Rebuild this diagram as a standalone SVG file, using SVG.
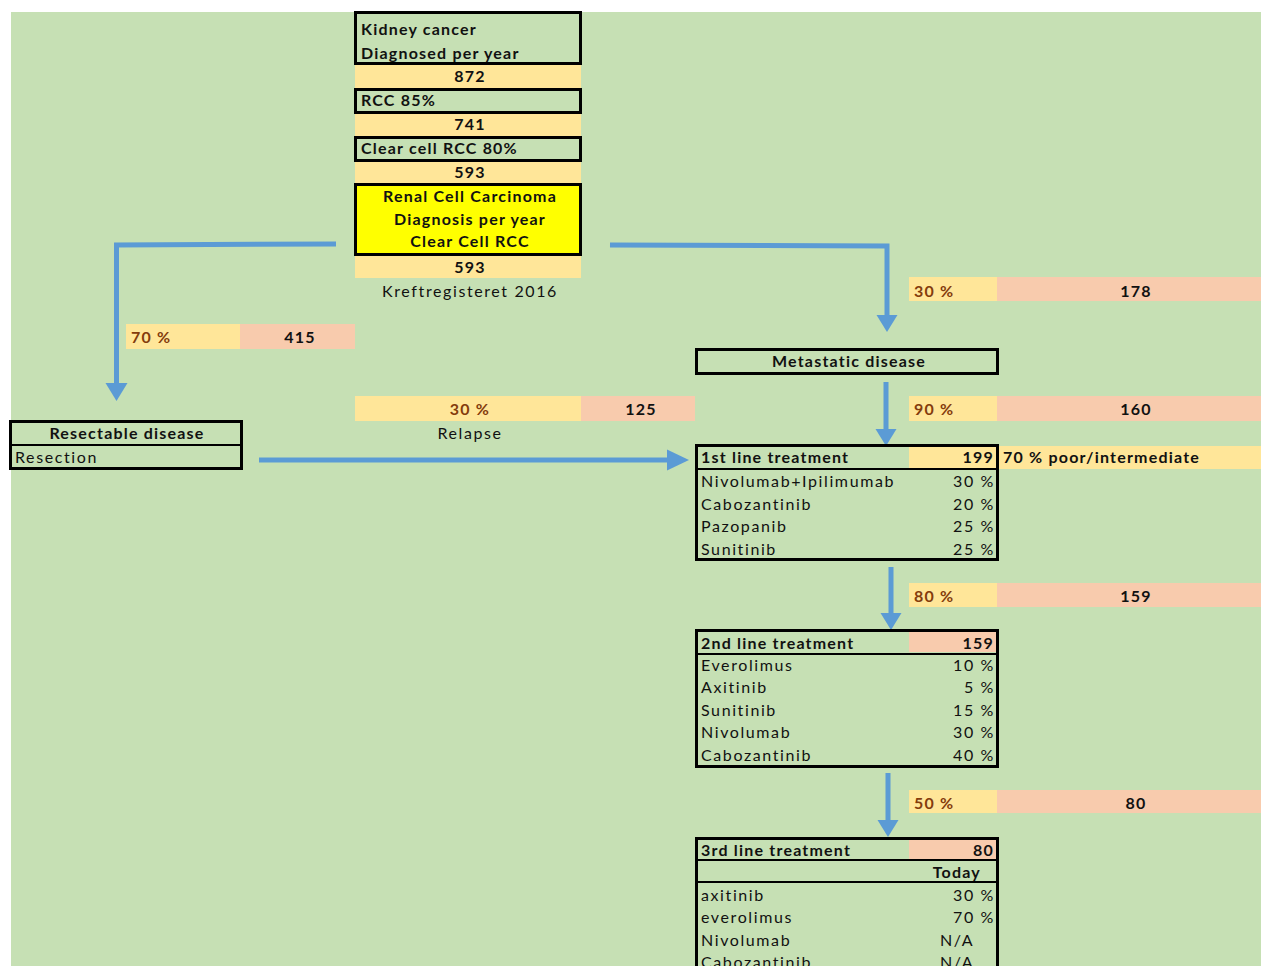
<svg xmlns="http://www.w3.org/2000/svg" width="1261" height="966" viewBox="0 0 1261 966">
<style>
text{font-family:Lato,"Open Sans","Liberation Sans",sans-serif;font-size:16px;fill:#111;letter-spacing:1.6px}
.b{font-weight:bold;letter-spacing:1.2px}
.c{text-anchor:middle}
.r{text-anchor:end}
.pct{font-weight:bold;fill:#843C0C;letter-spacing:1.2px}
.box{fill:none;stroke:#000;stroke-width:3}
.yl{fill:#FFE699}
.sa{fill:#F8CBAD}
.ln{stroke:#5B9BD5;stroke-width:5;fill:none}
.hd{fill:#5B9BD5}
.div{stroke:#000;stroke-width:2}
</style>
<rect x="0" y="0" width="1261" height="966" fill="#fff"/>
<rect x="11" y="12" width="1250" height="954" fill="#C6E0B4"/>

<g id="connectors">
<path class="ln" d="M336,244 L116.5,245 L116.5,385"/>
<polygon class="hd" points="105.5,383 127.5,383 116.5,401"/>
<path class="ln" d="M610,245 L887,246 L887,317"/>
<polygon class="hd" points="876.5,315 897.5,315 887,332"/>
<path class="ln" d="M259,460 L669,460"/>
<polygon class="hd" points="667,449.5 667,470.5 689,460"/>
<path class="ln" d="M886,382 L886,431"/>
<polygon class="hd" points="875.5,429 896.5,429 886,446"/>
<path class="ln" d="M891,567 L891,615"/>
<polygon class="hd" points="880.5,613 901.5,613 891,630"/>
<path class="ln" d="M888,773 L888,822"/>
<polygon class="hd" points="877.5,820 898.5,820 888,837"/>
</g>

<g id="kidney">
<rect class="box" x="355.5" y="12.5" width="225" height="51"/>
<text class="b" x="361" y="35">Kidney cancer</text>
<text class="b" x="361" y="59">Diagnosed per year</text>
<rect class="yl" x="355" y="65" width="226" height="23"/>
<text class="b c" x="470" y="82">872</text>
</g>
<g id="rcc">
<rect class="box" x="355.5" y="89.5" width="225" height="23"/>
<text class="b" x="361" y="106">RCC 85%</text>
<rect class="yl" x="355" y="114" width="226" height="22"/>
<text class="b c" x="470" y="130">741</text>
</g>
<g id="clearcell">
<rect class="box" x="355.5" y="137.5" width="225" height="23"/>
<text class="b" x="361" y="154">Clear cell RCC 80%</text>
<rect class="yl" x="355" y="162" width="226" height="22"/>
<text class="b c" x="470" y="178">593</text>
</g>
<g id="rcc-main">
<rect x="355.5" y="184.5" width="225" height="70" fill="#FFFF00" stroke="#000" stroke-width="3"/>
<text class="b c" x="470" y="202">Renal Cell Carcinoma</text>
<text class="b c" x="470" y="225">Diagnosis per year</text>
<text class="b c" x="470" y="247">Clear Cell RCC</text>
<rect class="yl" x="355" y="256" width="226" height="22"/>
<text class="b c" x="470" y="273">593</text>
<text class="c" x="470" y="297">Kreftregisteret 2016</text>
</g>

<g id="split-resectable">
<rect class="yl" x="126" y="324" width="114" height="25"/>
<rect class="sa" x="240" y="324" width="115" height="25"/>
<text class="pct" x="131" y="343">70 %</text>
<text class="b c" x="300" y="343">415</text>
</g>
<g id="resectable">
<rect class="box" x="10.5" y="421.5" width="231" height="47"/>
<line class="div" x1="10" y1="445" x2="242" y2="445"/>
<text class="b c" x="127" y="439">Resectable disease</text>
<text x="15" y="463">Resection</text>
</g>
<g id="relapse">
<rect class="yl" x="355" y="396" width="226" height="25"/>
<rect class="sa" x="581" y="396" width="114" height="25"/>
<text class="pct c" x="470" y="415">30 %</text>
<text class="b c" x="641" y="415">125</text>
<text class="c" x="470" y="439">Relapse</text>
</g>

<g id="split-metastatic">
<rect class="yl" x="909" y="277" width="88" height="24"/>
<rect class="sa" x="997" y="277" width="264" height="24"/>
<text class="pct" x="914" y="297">30 %</text>
<text class="b c" x="1136" y="297">178</text>
</g>
<g id="metastatic">
<rect class="box" x="696.5" y="349.5" width="301" height="24"/>
<text class="b c" x="849" y="367">Metastatic disease</text>
</g>
<g id="split-1st">
<rect class="yl" x="909" y="396" width="88" height="25"/>
<rect class="sa" x="997" y="396" width="264" height="25"/>
<text class="pct" x="914" y="415">90 %</text>
<text class="b c" x="1136" y="415">160</text>
</g>
<g id="line1">
<rect class="yl" x="909" y="446" width="88" height="22"/>
<rect class="yl" x="999" y="446" width="262" height="23"/>
<rect class="box" x="696.5" y="445.5" width="301" height="114"/>
<line class="div" x1="696" y1="469" x2="998" y2="469"/>
<text class="b" x="701" y="463">1st line treatment</text>
<text class="b r" x="994" y="463">199</text>
<text class="b" x="1003" y="463">70 % poor/intermediate</text>
<text x="701" y="487">Nivolumab+Ipilimumab</text><text class="r" x="995" y="487">30 %</text>
<text x="701" y="510">Cabozantinib</text><text class="r" x="995" y="510">20 %</text>
<text x="701" y="532">Pazopanib</text><text class="r" x="995" y="532">25 %</text>
<text x="701" y="555">Sunitinib</text><text class="r" x="995" y="555">25 %</text>
</g>
<g id="split-2nd">
<rect class="yl" x="909" y="583" width="88" height="24"/>
<rect class="sa" x="997" y="583" width="264" height="24"/>
<text class="pct" x="914" y="602">80 %</text>
<text class="b c" x="1136" y="602">159</text>
</g>
<g id="line2">
<rect class="sa" x="909" y="632" width="88" height="20"/>
<rect class="box" x="696.5" y="630.5" width="301" height="136"/>
<line class="div" x1="696" y1="654" x2="998" y2="654"/>
<text class="b" x="701" y="649">2nd line treatment</text>
<text class="b r" x="994" y="649">159</text>
<text x="701" y="671">Everolimus</text><text class="r" x="995" y="671">10 %</text>
<text x="701" y="693">Axitinib</text><text class="r" x="995" y="693">5 %</text>
<text x="701" y="716">Sunitinib</text><text class="r" x="995" y="716">15 %</text>
<text x="701" y="738">Nivolumab</text><text class="r" x="995" y="738">30 %</text>
<text x="701" y="761">Cabozantinib</text><text class="r" x="995" y="761">40 %</text>
</g>
<g id="split-3rd">
<rect class="yl" x="909" y="790" width="88" height="23"/>
<rect class="sa" x="997" y="790" width="264" height="23"/>
<text class="pct" x="914" y="809">50 %</text>
<text class="b c" x="1136" y="809">80</text>
</g>
<g id="line3">
<rect class="sa" x="909" y="839" width="88" height="20"/>
<path d="M696.5,975 L696.5,838.5 L997.5,838.5 L997.5,975" fill="none" stroke="#000" stroke-width="3"/>
<line class="div" x1="696" y1="860" x2="998" y2="860"/>
<line class="div" x1="696" y1="882" x2="998" y2="882"/>
<text class="b" x="701" y="856">3rd line treatment</text>
<text class="b r" x="994" y="856">80</text>
<text class="b r" x="981" y="878">Today</text>
<text x="701" y="901">axitinib</text><text class="r" x="995" y="901">30 %</text>
<text x="701" y="923">everolimus</text><text class="r" x="995" y="923">70 %</text>
<text x="701" y="946">Nivolumab</text><text x="940" y="946">N/A</text>
<text x="701" y="968">Cabozantinib</text><text x="940" y="968">N/A</text>
</g>
</svg>
